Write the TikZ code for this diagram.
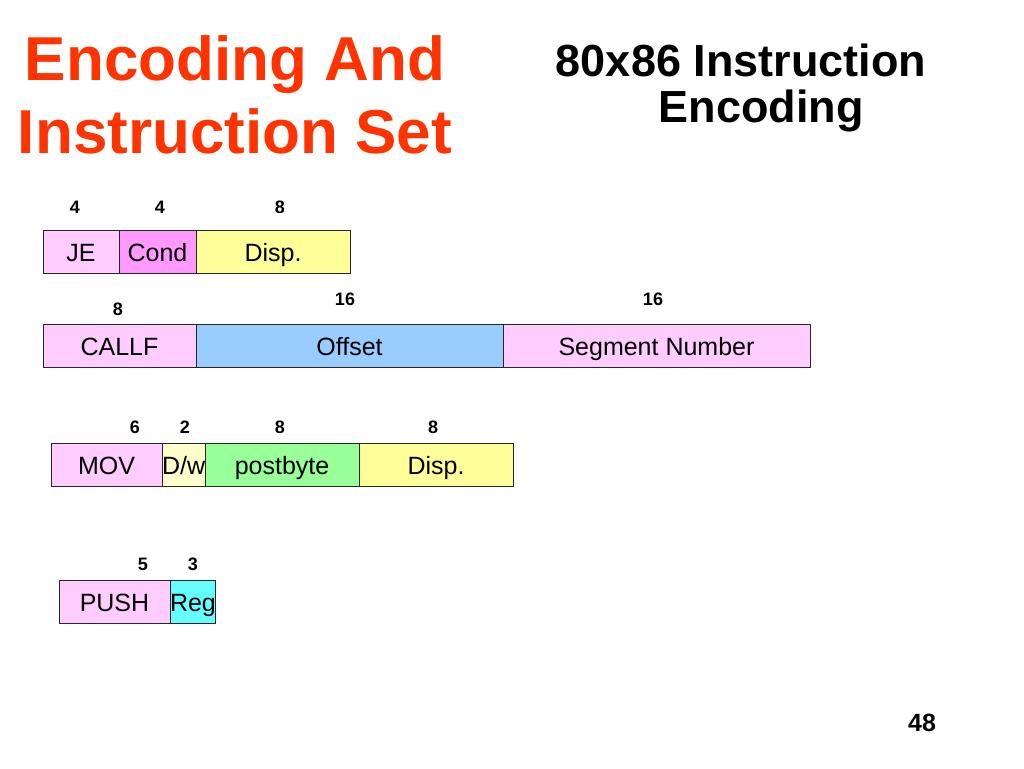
\documentclass[tikz,border=0pt]{standalone}
\usepackage{fontspec}
\setmainfont{Liberation Sans}
\usepackage{xcolor}
\usetikzlibrary{positioning}

\definecolor{titlered}{HTML}{FF3300}
\definecolor{oppink}{HTML}{FFCCFF}
\definecolor{condmag}{HTML}{FF99FF}
\definecolor{dispyel}{HTML}{FFFF99}
\definecolor{offblue}{HTML}{99CCFF}
\definecolor{postgreen}{HTML}{99FF99}
\definecolor{dwcream}{HTML}{FFFFCC}
\definecolor{regcyan}{HTML}{66FFFF}

\begin{document}
\begin{tikzpicture}[
  x=1pt, y=-1pt,
  node distance=0pt,
  field/.style={rectangle, draw=black!85, line width=0.8pt, minimum height=43pt,
                inner sep=0pt, outer sep=0pt, text height=20pt, text depth=0pt,
                font=\fontsize{25}{25}\selectfont},
  bits/.style={anchor=base, inner sep=0pt, font=\fontsize{18}{18}\selectfont\bfseries},
  bigtitle/.style={anchor=base, inner sep=0pt, text=titlered,
                   font=\fontsize{62}{62}\selectfont\bfseries},
  subtitle/.style={anchor=base, inner sep=0pt, font=\fontsize{45}{45}\selectfont\bfseries}
]
\useasboundingbox (0,0) rectangle (1024,768);

% titles
\node[bigtitle] (title1) at (235,80)  {Encoding And};
\node[bigtitle] (title2) at (235,153) {Instruction Set};
\node[subtitle] (sub1) at (741,77)  {80x86 Instruction};
\node[subtitle] (sub2) at (761,122) {Encoding};

% JE
\node[field, fill=oppink, minimum width=76pt, anchor=west] (je) at (43,251.5) {JE};
\node[field, fill=condmag, minimum width=77pt, right=of je] (cond) {Cond};
\node[field, fill=dispyel, minimum width=154pt, right=of cond] (jedisp) {Disp.};
\node[bits] (bje)   at (75,213)  {4};
\node[bits] (bcond) at (160,213) {4};
\node[bits] (bjed)  at (280,213) {8};

% CALLF
\node[field, fill=oppink, minimum width=153pt, anchor=west] (callf) at (43,345.5) {CALLF};
\node[field, fill=offblue, minimum width=307pt, right=of callf] (offset) {Offset};
\node[field, fill=oppink, minimum width=307pt, right=of offset] (segnum) {Segment Number};
\node[bits] (bcallf) at (118,315) {8};
\node[bits] (boff)   at (345,305) {16};
\node[bits] (bseg)   at (653,305) {16};

% MOV
\node[field, fill=oppink, minimum width=111pt, anchor=west] (mov) at (51,464.5) {MOV};
\node[field, fill=dwcream, minimum width=42pt, right=of mov] (dw) {D/w};
\node[field, fill=postgreen, minimum width=154pt, right=of dw] (post) {postbyte};
\node[field, fill=dispyel, minimum width=154pt, right=of post] (movdisp) {Disp.};
\node[bits] (bmov)  at (135,433) {6};
\node[bits] (bdw)   at (185,433) {2};
\node[bits] (bpost) at (280,433) {8};
\node[bits] (bmovd) at (433,433) {8};

% PUSH
\node[field, fill=oppink, minimum width=111pt, anchor=west] (push) at (59,601.5) {PUSH};
\node[field, fill=regcyan, minimum width=43pt, right=of push] (reg) {Reg};
\node[bits] (bpush) at (143,570) {5};
\node[bits] (breg)  at (193,570) {3};

% page number
\node[anchor=base, inner sep=0pt, font=\fontsize{25}{25}\selectfont\bfseries] (page) at (922,731) {48};
\end{tikzpicture}
\end{document}
